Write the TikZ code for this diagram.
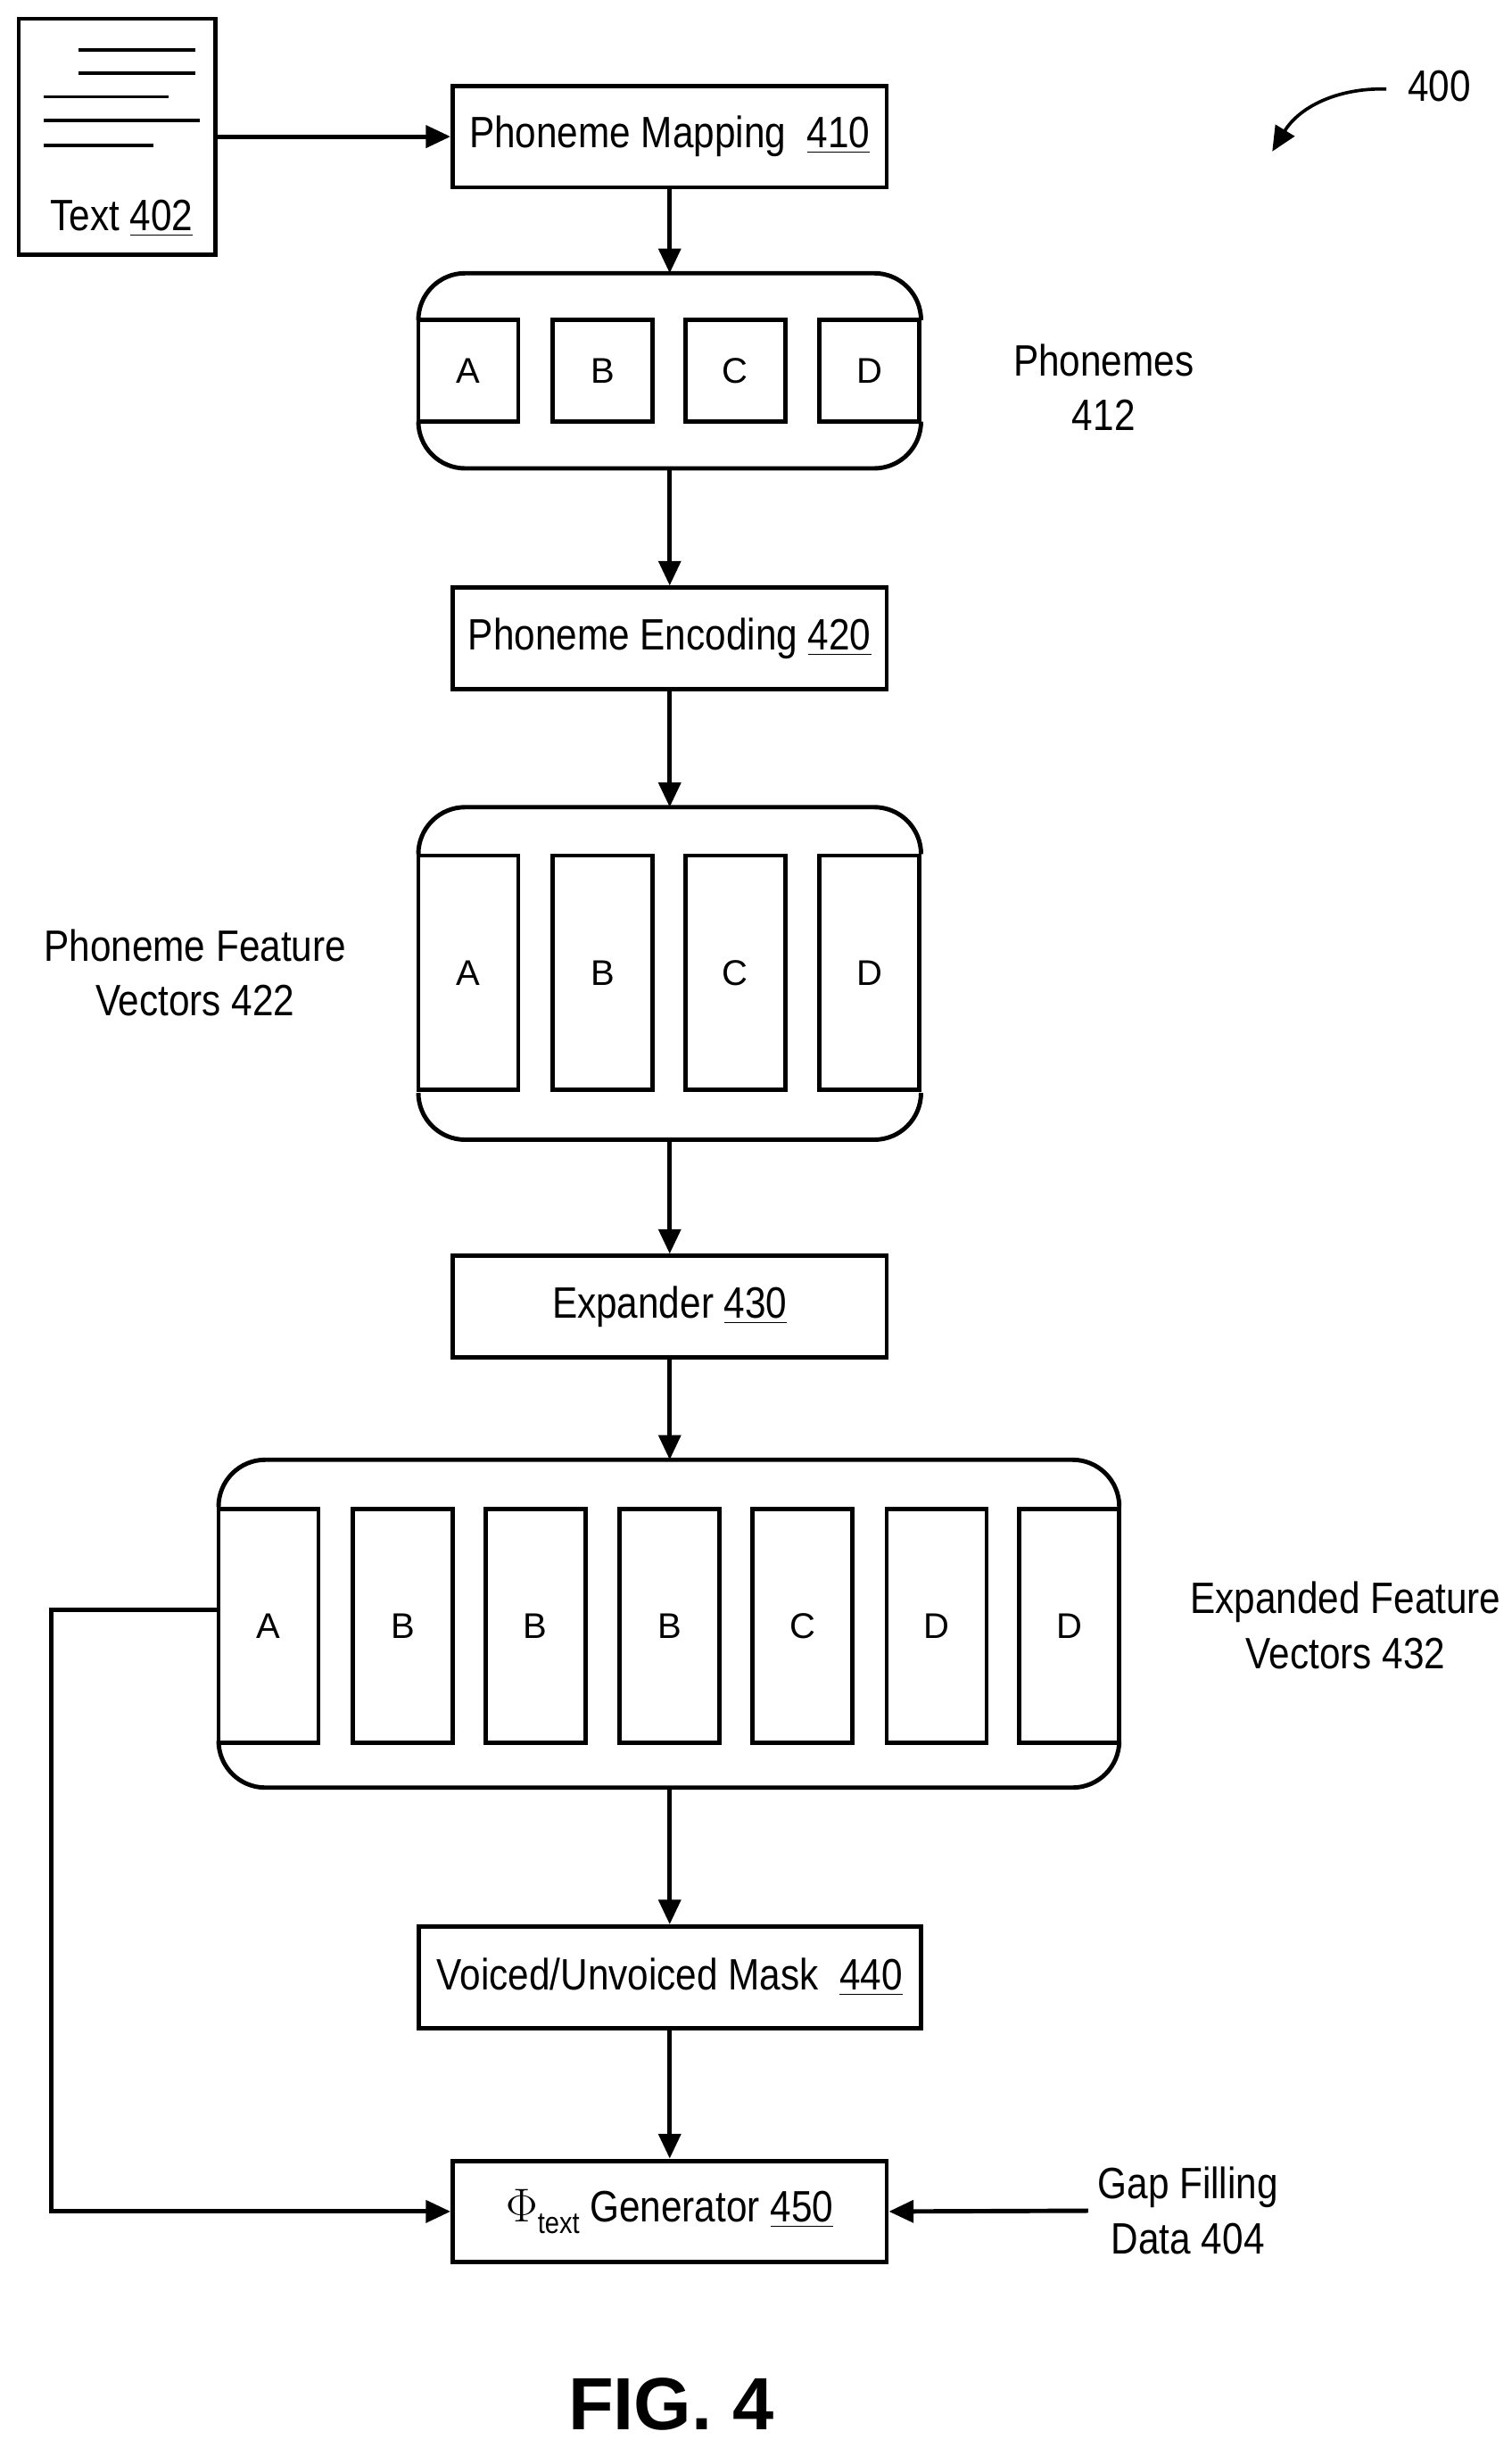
\documentclass[tikz,border=0pt]{standalone}
\usepackage{fontspec}
\setmainfont{Liberation Sans}[FakeStretch=0.86]
\usetikzlibrary{positioning,arrows.meta}
\tikzset{
  blk/.style={draw,line width=1.6pt,minimum width=5.56cm,minimum height=1.3cm,font=\fontsize{16}{18}\selectfont},
  cell/.style={draw,line width=1.6pt,minimum width=1.28cm,font=\fontsize{13}{15}\selectfont\addfontfeature{FakeStretch=1}},
  lbl/.style={align=center,font=\fontsize{16}{20}\selectfont},
  arr/.style={line width=1.6pt,-{Triangle[length=9pt,width=8pt]}}
}
% group bracket: x1, y1 (top), x2, y2 (bottom)
\newcommand\grp[4]{
  \draw[line width=1.6pt,rounded corners=0.6cm] (#1,#2+30) -- (#1,#2) -- (#3,#2) -- (#3,#2+30);
  \draw[line width=1.6pt,rounded corners=0.6cm] (#1,#4-30) -- (#1,#4) -- (#3,#4) -- (#3,#4-30);
}
\begin{document}
\begin{tikzpicture}[x=0.02cm,y=-0.02cm]
  \useasboundingbox (0,0) rectangle (968,1568);
  % text document
  \node[draw,line width=1.6pt,minimum width=2.52cm,minimum height=3.02cm] (doc) at (75,87.5) {};
  \foreach \a/\b/\yy in {50/125/32, 50/125/47, 28/108/62, 28/128/77, 28/98/93}
    \draw[line width=1.2pt] (\a,\yy) -- (\b,\yy);
  \node[lbl] (doct) at (78,140) {Text \underline{402}};
  % main chain
  \node[blk] (map) at (429,87.5) {Phoneme Mapping\ \ \underline{410}};
  \grp{268}{175}{590}{300}
  \coordinate (g1t) at (429,175); \coordinate (g1b) at (429,300);
  \foreach \l/\x in {A/300,B/386,C/471,D/557}
    \node[cell,minimum height=1.3cm] (p\l) at (\x,237.5) {\l};
  \node[lbl] (phl) at (707,248) {Phonemes\\412};
  \node[blk] (enc) at (429,409) {Phoneme Encoding \underline{420}};
  \grp{268}{517}{590}{730}
  \coordinate (g2t) at (429,517); \coordinate (g2b) at (429,730);
  \foreach \l/\x in {A/300,B/386,C/471,D/557}
    \node[cell,minimum height=3cm] (v\l) at (\x,623) {\l};
  \node[lbl] (vl) at (125,623) {Phoneme Feature\\Vectors 422};
  \node[blk] (exp) at (429,837) {Expander \underline{430}};
  \grp{140}{935}{717}{1145}
  \coordinate (g3t) at (429,935); \coordinate (g3b) at (429,1145);
  \foreach \l/\x [count=\i] in {A/172,B/258,B/343,B/429,C/514,D/600,D/685}
    \node[cell,minimum height=3cm] (e\i) at (\x,1041.5) {\l};
  \node[lbl] (el) at (862,1041) {Expanded Feature\\Vectors 432};
  \node[blk,minimum width=6.44cm] (mask) at (429,1266.5) {Voiced/Unvoiced Mask\ \ \underline{440}};
  \node[blk] (gen) at (429,1416.5) {$\Phi$\raisebox{-0.5ex}{\fontsize{11}{12}\selectfont text} Generator \underline{450}};
  \node[lbl] (gap) at (761,1416) {Gap Filling\\Data 404};
  \coordinate (gapw) at (697,1416);
  \coordinate (lc) at (33,1031);
  % connectors
  \draw[arr] (doc.east) -- (map.west);
  \draw[arr] (map) -- (g1t);
  \draw[arr] (g1b) -- (enc);
  \draw[arr] (enc) -- (g2t);
  \draw[arr] (g2b) -- (exp);
  \draw[arr] (exp) -- (g3t);
  \draw[arr] (g3b) -- (mask);
  \draw[arr] (mask) -- (gen);
  \draw[arr] (e1.west |- lc) -- (lc) |- (gen.west);
  \draw[arr] (gapw) -- (gen.east);
  % figure reference
  \node[lbl] (ref) at (922,55) {400};
  \coordinate (refe) at (815,97);
  \draw[arr,line width=1.2pt] (888,57) to[bend right=30] (refe);
  \node[font=\fontsize{27}{30}\selectfont\bfseries\addfontfeature{FakeStretch=1}] (fig) at (430,1540) {FIG. 4};
\end{tikzpicture}
\end{document}
